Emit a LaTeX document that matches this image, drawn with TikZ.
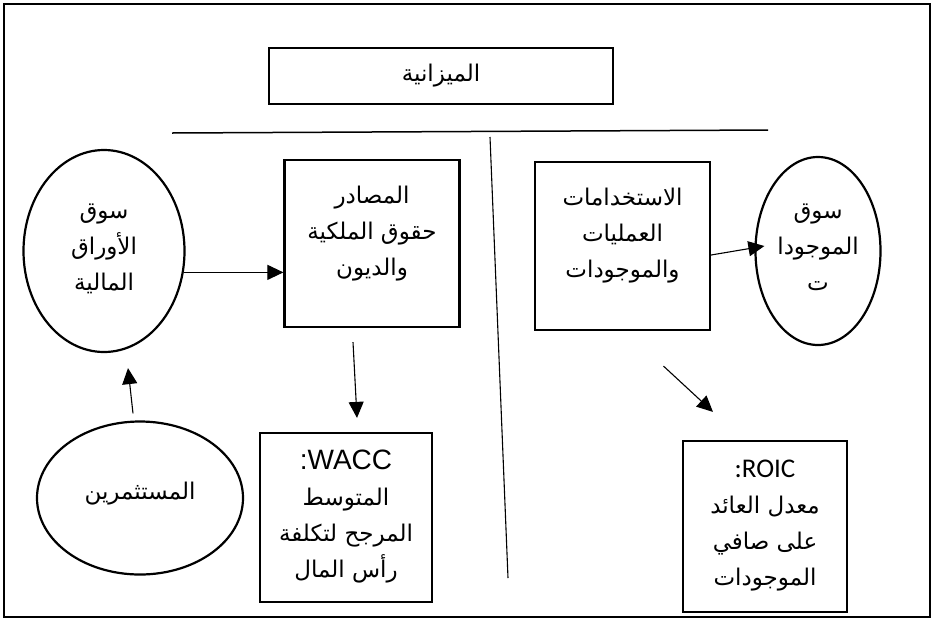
\documentclass[tikz,border=0pt]{standalone}
\usepackage{fontspec}
\usetikzlibrary{arrows.meta,shapes.geometric}
\TeXXeTstate=1
\newfontfamily\arabicfont[Script=Arabic]{DejaVu Sans}
\newfontfamily\latinfont{Carlito}
\newfontfamily\widelatin{Liberation Sans}
\newcommand\artext[1]{\beginR #1\endR}
\begin{document}
\begin{tikzpicture}[x=1pt,y=-1pt,
  frame/.style={draw, line width=2.8pt},
  box/.style={draw, line width=2.2pt, inner sep=0pt},
  oval/.style={ellipse, draw, line width=2.2pt, inner sep=0pt},
  lbl/.style={font=\arabicfont\fontsize{23}{36}\selectfont, align=center, inner sep=0pt},
  link/.style={-{Triangle[length=16pt,width=15pt]}, line width=1.1pt},
  rule/.style={line width=1.1pt}]
\useasboundingbox (0,0) rectangle (936,622);
% outer frame
\draw[frame] (4,4) rectangle (930,617);

% balance sheet heading and the dividing lines
\node[box, minimum width=344pt, minimum height=56pt] (title) at (441,76) {};
\node[lbl] (titletxt) at (title.center) {\artext{الميزانية}};
\coordinate (hl) at (172,133);
\coordinate (hr) at (768,130);
\coordinate (vt) at (490,137);
\coordinate (vb) at (508,578);
\draw[rule, line width=1.5pt] (hl) -- (hr);
\draw[rule] (vt) -- (vb);

% left side: financing
\node[oval, minimum width=161pt, minimum height=202pt] (secmkt) at (104,251) {};
\node[lbl] at (104,249) {\artext{سوق}\\\artext{الأوراق}\\\artext{المالية}};
\node[box, minimum width=175pt, minimum height=167pt] (src) at (372,243.5) {};
\node[lbl] at (372,234) {\artext{المصادر}\\\artext{حقوق الملكية}\\\artext{والديون}};
\node[oval, minimum width=206pt, minimum height=153pt] (inv) at (140,498) {};
\node[lbl] at (140,494) {\artext{المستثمرين}};
\node[box, minimum width=172pt, minimum height=169pt] (wacc) at (346,517.5) {};
\node[lbl] at (346,517) {{\widelatin\fontsize{28}{36}\selectfont :WACC}\\\artext{المتوسط}\\\artext{المرجح لتكلفة}\\\artext{رأس المال}};

% right side: uses
\node[box, minimum width=175pt, minimum height=168pt] (uses) at (622.5,246) {};
\node[lbl] at (622.5,236) {\artext{الاستخدامات}\\\artext{العمليات}\\\artext{والموجودات}};
\node[oval, minimum width=125pt, minimum height=188pt] (asset) at (818,251) {};
\node[lbl] at (818,247) {\artext{سوق}\\\artext{الموجودا}\\\artext{ت}};
\node[box, minimum width=164pt, minimum height=171pt] (roic) at (765,526.5) {};
\node[lbl] at (765,526) {{\latinfont\fontsize{27}{36}\selectfont :ROIC}\\\artext{معدل العائد}\\\artext{على صافي}\\\artext{الموجودات}};

% flows
\draw[link] (secmkt.-15) -- (secmkt.-15 -| src.west);
\draw[link] ([shift={(-19,14)}]src.south) -- ([shift={(11,-14)}]wacc.north);
\draw[link] ([shift={(-7,-7)}]inv.north) -- ([shift={(24,15)}]secmkt.south);
\draw[link] ([shift={(0,9)}]uses.east) -- ([shift={(10,-5)}]asset.west);
\draw[link] ([shift={(41,35)}]uses.south) -- ([shift={(-52,-28)}]roic.north);
\end{tikzpicture}
\end{document}
